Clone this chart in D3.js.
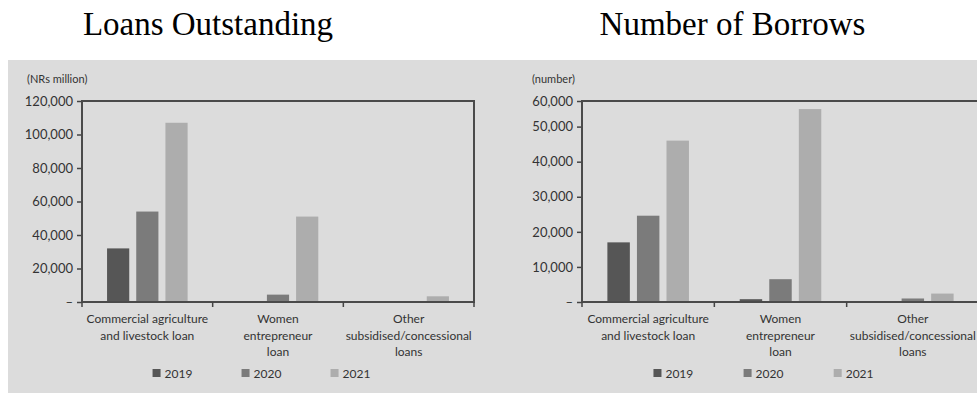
<!DOCTYPE html>
<html>
<head>
<meta charset="utf-8">
<script src="https://cdn.jsdelivr.net/npm/d3@7"></script>
<style>
  html, body { margin: 0; padding: 0; background: #ffffff; }
  svg { display: block; }
  .lbl { font-family: Lato, "Open Sans", sans-serif; fill: #333; }
  .title { font-family: "Liberation Serif", "DejaVu Serif", serif; fill: #000; }
</style>
</head>
<body>
<svg id="chart" width="977" height="394"></svg>
<script>
// ---------- data ----------
const categories = [
  ["Commercial agriculture", "and livestock loan"],
  ["Women", "entrepreneur", "loan"],
  ["Other", "subsidised/concessional", "loans"]
];
const years = ["2019", "2020", "2021"];

const loans2019 = [32000, 0, 0];
const loans2020 = [54000, 4400, 600];
const loans2021 = [107000, 51000, 3400];
const loanTicks = [0, 20000, 40000, 60000, 80000, 100000, 120000];
const loanMax = 120000;

const borrowers2019 = [17000, 800, 0];
const borrowers2020 = [24600, 6500, 1000];
const borrowers2021 = [46000, 55000, 2400];
const borrowerTicks = [0, 10000, 20000, 30000, 40000, 50000];
const borrowerMax = 57300;           // frame top, labelled "60,000" in the source
const borrowerTopLabel = "60,000";

const titles = ["Loans Outstanding", "Number of Borrows"];
const units = ["(NRs million)", "(number)"];
const colors = ["#565656", "#7b7b7b", "#adadad"];

// ---------- drawing ----------
const svg = d3.select("#chart");
svg.append("rect").attr("x", 8).attr("y", 60).attr("width", 969).attr("height", 333).attr("fill", "#dcdcdc");

const fmt = d3.format(",");

function drawPanel(p) {
  const g = svg.append("g");
  const x0 = d3.scaleBand().domain(d3.range(categories.length)).range([p.left, p.right]).padding(0);
  const B = x0.bandwidth();
  const x1 = d3.scaleBand().domain(years).range([B * 0.165, B * 0.835]).paddingInner(0.24).paddingOuter(0.12);
  const y = d3.scaleLinear().domain([0, p.max]).range([p.bottom, p.top]);

  // title
  svg.append("text").attr("class", "title")
    .attr("x", (p.left + p.right) / 2 - p.titleShift).attr("y", 35)
    .attr("text-anchor", "middle").attr("font-size", 33).text(p.title);

  // unit
  g.append("text").attr("class", "lbl").attr("x", p.unitX).attr("y", 83)
    .attr("font-size", 11).text(p.unit);

  // bars
  const series = [p.s2019, p.s2020, p.s2021];
  years.forEach((yr, i) => {
    g.append("g").selectAll("rect").data(series[i]).join("rect")
      .attr("x", (d, j) => x0(j) + x1(yr))
      .attr("width", x1.bandwidth())
      .attr("y", d => y(d))
      .attr("height", d => p.bottom - y(d))
      .attr("fill", colors[i]);
  });

  // y axis
  const tv = p.ticks.slice();
  if (p.topLabel) tv.push(p.max);
  const yAxis = d3.axisLeft(y).tickValues(tv).tickSize(5).tickPadding(4)
    .tickFormat(d => d === 0 ? "\u2013" : (p.topLabel && d === p.max ? p.topLabel : fmt(d)));
  const ya = g.append("g").attr("transform", `translate(${p.left},0)`).call(yAxis);
  ya.select(".domain").remove();
  ya.selectAll("line").attr("stroke", "#444").attr("stroke-width", 1.5);
  ya.selectAll("text").attr("class", "lbl").attr("font-size", 13).attr("fill", "#333")
    .style("font-family", "Lato, sans-serif");

  // frame
  g.append("rect").attr("x", p.left).attr("y", p.top)
    .attr("width", p.right - p.left).attr("height", p.bottom - p.top)
    .attr("fill", "none").attr("stroke", "#4a4a4a").attr("stroke-width", 2);

  // x ticks at category boundaries
  const bounds = categories.map((c, j) => x0(j)).concat([p.right]);
  g.append("g").selectAll("line").data(bounds).join("line")
    .attr("x1", d => d).attr("x2", d => d)
    .attr("y1", p.bottom).attr("y2", p.bottom + 5)
    .attr("stroke", "#444").attr("stroke-width", 1.5);

  // category labels
  categories.forEach((lines, j) => {
    const t = g.append("text").attr("class", "lbl").attr("font-size", 12)
      .attr("text-anchor", "middle");
    lines.forEach((ln, k) => {
      t.append("tspan").attr("x", x0(j) + B / 2).attr("y", 323 + k * 16.5).text(ln);
    });
  });

  // legend
  const W = p.right - p.left;
  years.forEach((yr, i) => {
    const lx = p.left + W * 0.18 + i * W * 0.227;
    g.append("rect").attr("x", lx).attr("y", 369).attr("width", 8).attr("height", 8).attr("fill", colors[i]);
    g.append("text").attr("class", "lbl").attr("x", lx + 12).attr("y", 377.5)
      .attr("font-size", 12).text(yr);
  });
}

drawPanel({
  left: 82, right: 474, top: 101, bottom: 302, max: loanMax, ticks: loanTicks,
  s2019: loans2019, s2020: loans2020, s2021: loans2021,
  title: titles[0], unit: units[0], unitX: 27, titleShift: 70
});
drawPanel({
  left: 582, right: 979, top: 101, bottom: 302, max: borrowerMax, ticks: borrowerTicks,
  topLabel: borrowerTopLabel,
  s2019: borrowers2019, s2020: borrowers2020, s2021: borrowers2021,
  title: titles[1], unit: units[1], unitX: 532, titleShift: 48
});
</script>
</body>
</html>
